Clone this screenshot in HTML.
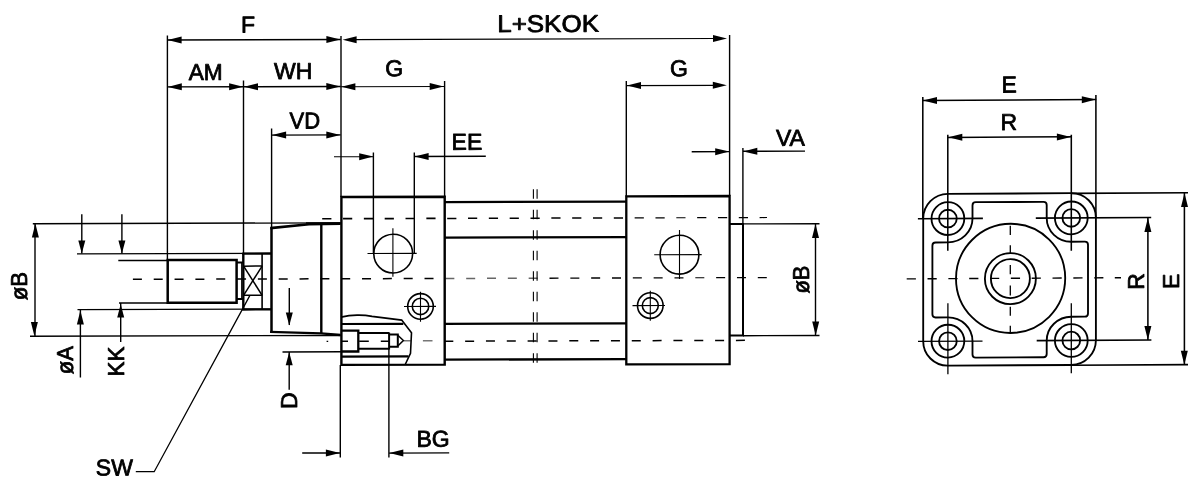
<!DOCTYPE html>
<html lang="en">
<head>
<meta charset="utf-8">
<title>Cylinder dimensions</title>
<style>
html,body{margin:0;padding:0;background:#fff;}
body{width:1200px;height:494px;overflow:hidden;}
svg{display:block;will-change:transform;}
svg line,svg polyline,svg path,svg circle,svg polygon{fill:none;stroke:#000;stroke-linecap:butt;stroke-linejoin:miter;}
svg polygon.a{fill:#000;stroke:none;}
svg text{font-family:"Liberation Sans",Arial,Helvetica,sans-serif;fill:#000;stroke:#000;stroke-width:0.8px;stroke-linejoin:round;}
</style>
</head>
<body>
<svg width="1200" height="494" viewBox="0 0 1200 494">
<rect x="0" y="0" width="1200" height="494" fill="#fff" stroke="none"/>
<g id="side-view" transform="matrix(1 -0.0028 0 1 0 1.26)">
<!-- extension lines -->
<line x1="167.4" y1="34.71" x2="167.4" y2="259.21" stroke-width="1.4"/>
<line x1="243.5" y1="79.92" x2="243.5" y2="252.92" stroke-width="1.4"/>
<line x1="271.6" y1="128" x2="271.6" y2="227.8" stroke-width="1.4"/>
<line x1="341" y1="35.69" x2="341" y2="196.69" stroke-width="1.4"/>
<line x1="340.3" y1="364.69" x2="340.3" y2="457.19" stroke-width="1.4"/>
<line x1="444.6" y1="80.98" x2="444.6" y2="196.98" stroke-width="1.4"/>
<line x1="373.4" y1="152.29" x2="373.4" y2="253.09" stroke-width="1.4"/>
<line x1="414.3" y1="152.4" x2="414.3" y2="253.2" stroke-width="1.4"/>
<line x1="626.3" y1="81.49" x2="626.3" y2="196.99" stroke-width="1.4"/>
<line x1="729.6" y1="35.78" x2="729.6" y2="196.78" stroke-width="1.4"/>
<line x1="742.9" y1="148.82" x2="742.9" y2="224.82" stroke-width="1.4"/>
<line x1="388.9" y1="348.83" x2="388.9" y2="457.33" stroke-width="1.4"/>
<!-- horizontal dimension lines -->
<line x1="167.4" y1="39.21" x2="340.7" y2="39.21" stroke-width="1.4"/>
<polygon class="a" points="167.6,39.21 181.6,35.71 181.6,42.71"/>
<polygon class="a" points="340.4,39.19 326.4,35.69 326.4,42.69"/>
<line x1="354" y1="39.29" x2="716" y2="39.29" stroke-width="1.15"/>
<polygon class="a" points="342.6,39.4 356.6,35.9 356.6,42.9"/>
<polygon class="a" points="727,39.28 713,35.78 713,42.78"/>
<line x1="167.4" y1="86.12" x2="243.5" y2="86.12" stroke-width="1.4"/>
<polygon class="a" points="167.8,86.11 181.8,82.61 181.8,89.61"/>
<polygon class="a" points="243.1,86.12 229.1,82.62 229.1,89.62"/>
<line x1="243.5" y1="86.16" x2="340.7" y2="86.16" stroke-width="1.4"/>
<polygon class="a" points="244,86.12 258,82.62 258,89.62"/>
<polygon class="a" points="340.3,86.19 326.3,82.69 326.3,89.69"/>
<line x1="340.7" y1="86.44" x2="444.6" y2="86.44" stroke-width="1.15"/>
<polygon class="a" points="341.4,86.4 355.4,82.9 355.4,89.9"/>
<polygon class="a" points="443.7,86.38 429.7,82.88 429.7,89.88"/>
<line x1="626.3" y1="86.12" x2="716" y2="86.12" stroke-width="1.25"/>
<polygon class="a" points="627,86.1 641,82.6 641,89.6"/>
<polygon class="a" points="726.8,86.08 712.8,82.58 712.8,89.58"/>
<line x1="271.6" y1="134.6" x2="340.7" y2="134.6" stroke-width="1.4"/>
<polygon class="a" points="272.1,134.6 286.1,131.1 286.1,138.1"/>
<polygon class="a" points="340.3,134.59 326.3,131.09 326.3,138.09"/>
<line x1="334" y1="156.43" x2="373.4" y2="156.43" stroke-width="1"/>
<polygon class="a" points="373.2,156.38 359.2,152.88 359.2,159.88"/>
<line x1="414.3" y1="156.4" x2="485.8" y2="156.4" stroke-width="1.4"/>
<polygon class="a" points="414.6,156.4 428.6,152.9 428.6,159.9"/>
<line x1="691.7" y1="152.43" x2="729" y2="152.43" stroke-width="1.4"/>
<polygon class="a" points="729.2,152.38 715.2,148.88 715.2,155.88"/>
<line x1="743" y1="152.11" x2="805" y2="152.11" stroke-width="1.4"/>
<polygon class="a" points="743.3,152.22 757.3,148.72 757.3,155.72"/>
<line x1="302.2" y1="452.64" x2="340" y2="452.64" stroke-width="1.4"/>
<polygon class="a" points="339.9,452.69 325.9,449.19 325.9,456.19"/>
<line x1="389" y1="452.91" x2="449.2" y2="452.91" stroke-width="1.4"/>
<polygon class="a" points="389.3,452.83 403.3,449.33 403.3,456.33"/>
<!-- vertical dimension lines, left -->
<line x1="32.8" y1="222.53" x2="340.7" y2="222.53" stroke-width="1.4"/>
<line x1="30" y1="335.12" x2="340.7" y2="335.12" stroke-width="1.4"/>
<line x1="35" y1="222.34" x2="35" y2="334.84" stroke-width="1.4"/>
<polygon class="a" points="35.4,222.44 31.9,236.44 38.9,236.44"/>
<polygon class="a" points="34.4,334.84 30.9,320.84 37.9,320.84"/>
<line x1="77" y1="252.82" x2="271.5" y2="252.82" stroke-width="1.4"/>
<line x1="77.5" y1="308.62" x2="271.5" y2="308.62" stroke-width="1.4"/>
<line x1="81.8" y1="213.17" x2="81.8" y2="252.37" stroke-width="1.4"/>
<polygon class="a" points="81.8,252.37 78.3,239.37 85.3,239.37"/>
<line x1="80.4" y1="308.57" x2="80.4" y2="376.47" stroke-width="1.4"/>
<polygon class="a" points="80.4,309.37 76.9,323.37 83.9,323.37"/>
<line x1="118.3" y1="259.64" x2="167.5" y2="259.64" stroke-width="1.4"/>
<line x1="119" y1="302.14" x2="168" y2="302.14" stroke-width="1.4"/>
<line x1="121.9" y1="213.28" x2="121.9" y2="252.48" stroke-width="1.4"/>
<polygon class="a" points="121.9,252.48 118.4,239.48 125.4,239.48"/>
<line x1="120.7" y1="302.08" x2="120.7" y2="341.08" stroke-width="1.4"/>
<polygon class="a" points="120.7,303.28 117.2,316.48 124.2,316.48"/>
<line x1="289.3" y1="287.55" x2="289.3" y2="324.55" stroke-width="1.4"/>
<polygon class="a" points="289.3,324.95 285.8,311.95 292.8,311.95"/>
<line x1="282.5" y1="351.41" x2="341" y2="351.41" stroke-width="1.5"/>
<line x1="289.2" y1="351.55" x2="289.2" y2="389.25" stroke-width="1.4"/>
<polygon class="a" points="289.2,351.75 285.7,364.75 292.7,364.75"/>
<line x1="743" y1="224.72" x2="819.5" y2="224.72" stroke-width="1.4"/>
<line x1="743" y1="336.52" x2="819.5" y2="336.52" stroke-width="1.4"/>
<line x1="815.5" y1="225.02" x2="815.5" y2="336.52" stroke-width="1.4"/>
<polygon class="a" points="815.5,225.02 812,239.02 819,239.02"/>
<polygon class="a" points="815.7,336.52 812.2,322.52 819.2,322.52"/>
<!-- centre lines -->
<line x1="322.2" y1="218.4" x2="331.4" y2="218.4" stroke-width="1.7"/>
<line x1="343.03" y1="218.4" x2="352.23" y2="218.4" stroke-width="1.7"/>
<line x1="363.86" y1="218.4" x2="373.06" y2="218.4" stroke-width="1.7"/>
<line x1="384.69" y1="218.4" x2="393.89" y2="218.4" stroke-width="1.7"/>
<line x1="405.52" y1="218.4" x2="414.72" y2="218.4" stroke-width="1.7"/>
<line x1="426.35" y1="218.4" x2="435.55" y2="218.4" stroke-width="1.7"/>
<line x1="447.18" y1="218.4" x2="456.38" y2="218.4" stroke-width="1.5"/>
<line x1="468.01" y1="218.4" x2="477.21" y2="218.4" stroke-width="1.5"/>
<line x1="488.84" y1="218.4" x2="498.04" y2="218.4" stroke-width="1.5"/>
<line x1="509.67" y1="218.4" x2="518.87" y2="218.4" stroke-width="1.5"/>
<line x1="530.5" y1="218.4" x2="539.7" y2="218.4" stroke-width="1.5"/>
<line x1="551.33" y1="218.4" x2="560.53" y2="218.4" stroke-width="1.5"/>
<line x1="572.16" y1="218.4" x2="581.36" y2="218.4" stroke-width="1.5"/>
<line x1="592.99" y1="218.4" x2="602.19" y2="218.4" stroke-width="1.5"/>
<line x1="613.82" y1="218.4" x2="623.02" y2="218.4" stroke-width="1.5"/>
<line x1="634.65" y1="218.4" x2="643.85" y2="218.4" stroke-width="1.2"/>
<line x1="655.48" y1="218.4" x2="664.68" y2="218.4" stroke-width="1.2"/>
<line x1="676.31" y1="218.4" x2="685.51" y2="218.4" stroke-width="1.2"/>
<line x1="697.14" y1="218.4" x2="706.34" y2="218.4" stroke-width="1.2"/>
<line x1="717.97" y1="218.4" x2="727.17" y2="218.4" stroke-width="1.2"/>
<line x1="738.8" y1="218.4" x2="748" y2="218.4" stroke-width="1.2"/>
<line x1="759.6" y1="218.4" x2="767" y2="218.4" stroke-width="1.2"/>
<line x1="132.9" y1="278.46" x2="141.9" y2="278.46" stroke-width="1.5"/>
<line x1="153.73" y1="278.46" x2="162.73" y2="278.46" stroke-width="1.5"/>
<line x1="174.56" y1="278.46" x2="183.56" y2="278.46" stroke-width="1.5"/>
<line x1="195.39" y1="278.46" x2="204.39" y2="278.46" stroke-width="1.5"/>
<line x1="216.22" y1="278.46" x2="225.22" y2="278.46" stroke-width="1.5"/>
<line x1="237.05" y1="278.46" x2="246.05" y2="278.46" stroke-width="1.5"/>
<line x1="257.88" y1="278.46" x2="266.88" y2="278.46" stroke-width="1.5"/>
<line x1="278.71" y1="278.46" x2="287.71" y2="278.46" stroke-width="1.5"/>
<line x1="299.54" y1="278.46" x2="308.54" y2="278.46" stroke-width="1.5"/>
<line x1="320.37" y1="278.46" x2="329.37" y2="278.46" stroke-width="1.5"/>
<line x1="341.2" y1="278.46" x2="350.2" y2="278.46" stroke-width="1.5"/>
<line x1="362.03" y1="278.46" x2="371.03" y2="278.46" stroke-width="1.5"/>
<line x1="382.86" y1="278.46" x2="391.86" y2="278.46" stroke-width="1.5"/>
<line x1="403.69" y1="278.46" x2="412.69" y2="278.46" stroke-width="1.5"/>
<line x1="424.52" y1="278.46" x2="433.52" y2="278.46" stroke-width="1.5"/>
<line x1="445.35" y1="278.46" x2="454.35" y2="278.46" stroke-width="1.5" style="stroke:#666"/>
<line x1="466.18" y1="278.46" x2="475.18" y2="278.46" stroke-width="1.5" style="stroke:#666"/>
<line x1="487.01" y1="278.46" x2="496.01" y2="278.46" stroke-width="1.5" style="stroke:#666"/>
<line x1="507.84" y1="278.46" x2="516.84" y2="278.46" stroke-width="1.5" style="stroke:#666"/>
<line x1="528.67" y1="278.46" x2="537.67" y2="278.46" stroke-width="1.5" style="stroke:#666"/>
<line x1="549.5" y1="278.46" x2="558.5" y2="278.46" stroke-width="1.4"/>
<line x1="570.33" y1="278.46" x2="579.33" y2="278.46" stroke-width="1.4"/>
<line x1="591.16" y1="278.46" x2="600.16" y2="278.46" stroke-width="1.4"/>
<line x1="611.99" y1="278.46" x2="620.99" y2="278.46" stroke-width="1.4"/>
<line x1="632.82" y1="278.46" x2="641.82" y2="278.46" stroke-width="1.2"/>
<line x1="653.65" y1="278.46" x2="662.65" y2="278.46" stroke-width="1.2"/>
<line x1="674.48" y1="278.46" x2="683.48" y2="278.46" stroke-width="1.2"/>
<line x1="695.31" y1="278.46" x2="704.31" y2="278.46" stroke-width="1.2"/>
<line x1="716.14" y1="278.46" x2="725.14" y2="278.46" stroke-width="1.2"/>
<line x1="736.97" y1="278.46" x2="745.97" y2="278.46" stroke-width="1.2"/>
<line x1="757.8" y1="278.46" x2="766.8" y2="278.46" stroke-width="1.2"/>
<line x1="326.6" y1="341.01" x2="328.2" y2="341.01" stroke-width="1.4"/>
<line x1="341.5" y1="341.01" x2="348" y2="341.01" stroke-width="1.4"/>
<line x1="359.2" y1="341.01" x2="368.8" y2="341.01" stroke-width="1.4"/>
<line x1="380.8" y1="341.01" x2="390" y2="341.01" stroke-width="1.4"/>
<line x1="403.3" y1="340.68" x2="410.8" y2="340.68" stroke-width="1.4" style="stroke:#777"/>
<line x1="422.9" y1="340.64" x2="432.5" y2="340.64" stroke-width="1.4" style="stroke:#777"/>
<line x1="444.3" y1="341.2" x2="453.3" y2="341.2" stroke-width="1.5"/>
<line x1="465.13" y1="341.2" x2="474.13" y2="341.2" stroke-width="1.5"/>
<line x1="485.96" y1="341.2" x2="494.96" y2="341.2" stroke-width="1.5"/>
<line x1="506.79" y1="341.2" x2="515.79" y2="341.2" stroke-width="1.5"/>
<line x1="527.62" y1="341.2" x2="536.62" y2="341.2" stroke-width="1.5"/>
<line x1="548.45" y1="341.2" x2="557.45" y2="341.2" stroke-width="1.5"/>
<line x1="569.28" y1="341.2" x2="578.28" y2="341.2" stroke-width="1.5"/>
<line x1="590.11" y1="341.2" x2="599.11" y2="341.2" stroke-width="1.5"/>
<line x1="610.94" y1="341.2" x2="619.94" y2="341.2" stroke-width="1.5"/>
<line x1="631.77" y1="341.2" x2="640.77" y2="341.2" stroke-width="1.5"/>
<line x1="652.6" y1="341.2" x2="661.6" y2="341.2" stroke-width="1.5"/>
<line x1="673.43" y1="341.2" x2="682.43" y2="341.2" stroke-width="1.5"/>
<line x1="694.26" y1="341.2" x2="703.26" y2="341.2" stroke-width="1.5"/>
<line x1="715.09" y1="341.2" x2="724.09" y2="341.2" stroke-width="1.5"/>
<line x1="735.92" y1="341.2" x2="744.92" y2="341.2" stroke-width="1.5"/>
<line x1="533.4" y1="189.43" x2="533.4" y2="198.93" stroke-width="1.1"/>
<line x1="533.4" y1="209.93" x2="533.4" y2="219.43" stroke-width="1.1"/>
<line x1="533.4" y1="230.43" x2="533.4" y2="239.93" stroke-width="1.1"/>
<line x1="533.4" y1="250.93" x2="533.4" y2="260.43" stroke-width="1.1"/>
<line x1="533.4" y1="271.43" x2="533.4" y2="280.93" stroke-width="1.1"/>
<line x1="533.4" y1="291.93" x2="533.4" y2="301.43" stroke-width="1.1"/>
<line x1="533.4" y1="312.43" x2="533.4" y2="321.93" stroke-width="1.1"/>
<line x1="533.4" y1="332.93" x2="533.4" y2="342.43" stroke-width="1.1"/>
<line x1="533.4" y1="353.43" x2="533.4" y2="362.93" stroke-width="1.1"/>
<line x1="537.1" y1="189.44" x2="537.1" y2="198.94" stroke-width="1.1"/>
<line x1="537.1" y1="209.94" x2="537.1" y2="219.44" stroke-width="1.1"/>
<line x1="537.1" y1="230.44" x2="537.1" y2="239.94" stroke-width="1.1"/>
<line x1="537.1" y1="250.94" x2="537.1" y2="260.44" stroke-width="1.1"/>
<line x1="537.1" y1="271.44" x2="537.1" y2="280.94" stroke-width="1.1"/>
<line x1="537.1" y1="291.94" x2="537.1" y2="301.44" stroke-width="1.1"/>
<line x1="537.1" y1="312.44" x2="537.1" y2="321.94" stroke-width="1.1"/>
<line x1="537.1" y1="332.94" x2="537.1" y2="342.44" stroke-width="1.1"/>
<line x1="537.1" y1="353.44" x2="537.1" y2="362.94" stroke-width="1.1"/>
<!-- piston rod -->
<polygon points="167.7,259.11 236.6,259.3 236.6,302.2 167.7,302.01" stroke-width="2.5"/>
<line x1="236.8" y1="262.01" x2="243.5" y2="262.01" stroke-width="2"/>
<line x1="236.8" y1="298.31" x2="243.5" y2="298.31" stroke-width="2"/>
<line x1="241.6" y1="262.02" x2="241.6" y2="298.32" stroke-width="1"/>
<line x1="243.3" y1="252.92" x2="243.3" y2="309.02" stroke-width="2.4"/>
<line x1="262.1" y1="252.97" x2="262.1" y2="309.07" stroke-width="1.6"/>
<line x1="243.6" y1="265.55" x2="262.1" y2="265.55" stroke-width="1.5"/>
<line x1="243.6" y1="294.75" x2="262.1" y2="294.75" stroke-width="1.5"/>
<line x1="243.6" y1="265.52" x2="262.1" y2="294.77" stroke-width="1.5"/>
<line x1="262.1" y1="265.57" x2="243.6" y2="294.72" stroke-width="1.5"/>
<line x1="242.2" y1="253.06" x2="271.5" y2="253.06" stroke-width="2.2"/>
<line x1="242.2" y1="308.86" x2="271.5" y2="308.86" stroke-width="2.4"/>
<line x1="271.5" y1="226.7" x2="271.5" y2="332.3" stroke-width="2.5"/>
<polyline points="270.3,227.6 309,223.91 340.7,223.49" stroke-width="2.6"/>
<line x1="306" y1="222.65" x2="340.7" y2="222.65" stroke-width="1.6"/>
<line x1="321.3" y1="223.64" x2="321.3" y2="333.24" stroke-width="2.4"/>
<polyline points="270.1,331.3 321,332.94 340.7,334.69" stroke-width="2.3"/>
<!-- front head -->
<polygon points="341.4,196.7 444.7,196.69 444.7,364.59 341.4,364.6" stroke-width="2.4"/>
<!-- rear head -->
<polygon points="626.3,196.89 729.6,196.78 729.6,364.98 626.3,364.89" stroke-width="2.3"/>
<polyline points="729.6,224.68 743,224.72 743,336.42 729.6,336.38" stroke-width="2"/>
<!-- tie rods -->
<line x1="444.6" y1="202.04" x2="626.3" y2="202.04" stroke-width="2.3"/>
<line x1="444.6" y1="237.54" x2="626.3" y2="237.54" stroke-width="2.3"/>
<line x1="444.6" y1="323.84" x2="626.3" y2="323.84" stroke-width="2.3"/>
<line x1="444.6" y1="359.64" x2="626.3" y2="359.64" stroke-width="2.3"/>
<!-- ports -->
<circle cx="393.2" cy="253.44" r="19.4" stroke-width="1.6"/>
<line x1="367.5" y1="253.24" x2="416.7" y2="253.24" stroke-width="1.1"/>
<line x1="392.9" y1="228.14" x2="392.9" y2="276.54" stroke-width="1.1"/>
<circle cx="679.5" cy="255.34" r="19.4" stroke-width="1.6"/>
<line x1="654.2" y1="255.34" x2="701.7" y2="255.34" stroke-width="1.1"/>
<line x1="679.5" y1="230.64" x2="679.5" y2="279.64" stroke-width="1.1"/>
<circle cx="420.5" cy="306.32" r="12.8" stroke-width="1.6"/>
<circle cx="420.5" cy="306.32" r="8.2" stroke-width="1.6"/>
<line x1="404" y1="306.32" x2="436" y2="306.32" stroke-width="1.1"/>
<line x1="420.5" y1="291.62" x2="420.5" y2="321.62" stroke-width="1.1"/>
<circle cx="650.3" cy="306.16" r="12.8" stroke-width="1.6"/>
<circle cx="650.3" cy="306.16" r="8" stroke-width="1.6"/>
<line x1="632.5" y1="306.16" x2="665" y2="306.16" stroke-width="1.1"/>
<line x1="650.3" y1="291.36" x2="650.3" y2="321.36" stroke-width="1.1"/>
<!-- cushion screw cut-away -->
<path d="M341 316.79 Q349 315.02 357 314.84 T372 316.18 L401.7 319.96 L411.5 332.69 L410.5 353.19 L405.2 364.37" stroke-width="1.6"/>
<line x1="341" y1="323.68" x2="403.3" y2="323.68" stroke-width="2.2"/>
<line x1="341" y1="356.29" x2="408.4" y2="356.29" stroke-width="2.2"/>
<polyline points="341,330.39 358.3,330.44 358.3,351.24 341,351.19" stroke-width="2.3"/>
<line x1="358.3" y1="332.79" x2="389.2" y2="332.79" stroke-width="2"/>
<line x1="358.3" y1="348.59" x2="389.2" y2="348.59" stroke-width="2"/>
<line x1="389.1" y1="332.33" x2="389.1" y2="349.33" stroke-width="2"/>
<polyline points="389.1,334.33 397.8,334.35 397.8,346.65 389.1,346.63" stroke-width="2"/>
<polyline points="397.8,335.05 403.4,340.37 397.8,345.85" stroke-width="1.5"/>
<!-- SW leader -->
<polyline points="135.8,470.82 154.2,470.87 249.8,295.04" stroke-width="1.3"/>
<!-- labels -->
<text x="240.9" y="31.81" font-size="23">F</text>
<text x="188.7" y="79.37" font-size="23" textLength="34" lengthAdjust="spacingAndGlyphs">AM</text>
<text x="274" y="78.51" font-size="23">WH</text>
<text x="289.6" y="128.05" font-size="23" textLength="30.6" lengthAdjust="spacingAndGlyphs">VD</text>
<text x="385.3" y="76.12" font-size="23">G</text>
<text x="497.2" y="32.23" font-size="24" textLength="101.8" lengthAdjust="spacingAndGlyphs">L+SKOK</text>
<text x="670.1" y="76.92" font-size="23">G</text>
<text x="451.6" y="149.7" font-size="23">EE</text>
<text x="775.9" y="146.71" font-size="23">VA</text>
<text x="416.4" y="446.61" font-size="23">BG</text>
<text x="95.8" y="474.61" font-size="23">SW</text>
<text x="27.5" y="299.12" font-size="23" transform="rotate(-90 27.5 299.12)" textLength="28.4" lengthAdjust="spacingAndGlyphs">øB</text>
<text x="72.6" y="373.14" font-size="23" transform="rotate(-90 72.6 373.14)" textLength="28" lengthAdjust="spacingAndGlyphs">øA</text>
<text x="124.2" y="375.49" font-size="23" transform="rotate(-90 124.2 375.49)" textLength="29.8" lengthAdjust="spacingAndGlyphs">KK</text>
<text x="296.7" y="408.67" font-size="23" transform="rotate(-90 296.7 408.67)">D</text>
<text x="808.6" y="294.6" font-size="23" transform="rotate(-90 808.6 294.6)" textLength="28" lengthAdjust="spacingAndGlyphs">øB</text>
</g>
<g id="end-view" transform="matrix(1 -0.0055 0 1 0 5.555)">
<!-- end view -->
<line x1="922.8" y1="96.52" x2="922.8" y2="217.52" stroke-width="1.55"/>
<line x1="1095.9" y1="95.47" x2="1095.9" y2="218.47" stroke-width="1.55"/>
<line x1="947.8" y1="134.36" x2="947.8" y2="250.46" stroke-width="1.55"/>
<line x1="1071.3" y1="135.04" x2="1071.3" y2="251.14" stroke-width="1.55"/>
<line x1="922.6" y1="100.02" x2="1096.2" y2="100.02" stroke-width="1.55"/>
<polygon class="a" points="923,100.12 937,96.62 937,103.62"/>
<polygon class="a" points="1095.8,100.07 1081.8,96.57 1081.8,103.57"/>
<line x1="947.8" y1="137.1" x2="1071.3" y2="137.1" stroke-width="1.55"/>
<polygon class="a" points="948.3,136.96 962.3,133.46 962.3,140.46"/>
<polygon class="a" points="1070.9,137.23 1056.9,133.73 1056.9,140.73"/>
<line x1="1071.3" y1="193.72" x2="1188" y2="193.72" stroke-width="1.55"/>
<line x1="1071.3" y1="365.61" x2="1188" y2="365.61" stroke-width="1.55"/>
<line x1="1184.4" y1="193.96" x2="1184.4" y2="365.76" stroke-width="1.55"/>
<polygon class="a" points="1184.5,194.06 1181,208.06 1188,208.06"/>
<polygon class="a" points="1184.3,365.66 1180.8,351.66 1187.8,351.66"/>
<line x1="1035.8" y1="218.25" x2="1151.2" y2="218.25" stroke-width="1.55"/>
<line x1="1036.7" y1="340.75" x2="1151.4" y2="340.75" stroke-width="1.55"/>
<line x1="1147.9" y1="218.56" x2="1147.9" y2="340.86" stroke-width="1.55"/>
<polygon class="a" points="1147.9,218.66 1144.4,232.66 1151.4,232.66"/>
<polygon class="a" points="1147.9,340.76 1144.4,326.76 1151.4,326.76"/>
<line x1="917.9" y1="218.26" x2="982.9" y2="218.26" stroke-width="1.7"/>
<line x1="918" y1="340.86" x2="982.5" y2="340.86" stroke-width="1.25"/>
<line x1="947.9" y1="302.96" x2="947.9" y2="373.86" stroke-width="1.3"/>
<line x1="1071.3" y1="303.64" x2="1071.3" y2="373.64" stroke-width="1.3"/>
<line x1="906.7" y1="278.31" x2="915.9" y2="278.31" stroke-width="1.4"/>
<line x1="927.53" y1="278.31" x2="936.73" y2="278.31" stroke-width="1.4"/>
<line x1="948.36" y1="278.31" x2="957.56" y2="278.31" stroke-width="1.4"/>
<line x1="969.19" y1="278.31" x2="978.39" y2="278.31" stroke-width="1.4"/>
<line x1="990.02" y1="278.31" x2="999.22" y2="278.31" stroke-width="1.4"/>
<line x1="1010.85" y1="278.31" x2="1020.05" y2="278.31" stroke-width="1.4"/>
<line x1="1031.68" y1="278.31" x2="1040.88" y2="278.31" stroke-width="1.4"/>
<line x1="1052.51" y1="278.31" x2="1061.71" y2="278.31" stroke-width="1.4"/>
<line x1="1073.34" y1="278.31" x2="1082.54" y2="278.31" stroke-width="1.4"/>
<line x1="1094.17" y1="278.31" x2="1103.37" y2="278.31" stroke-width="1.4"/>
<line x1="1114.8" y1="278.31" x2="1121" y2="278.31" stroke-width="1.4"/>
<line x1="1010.3" y1="225.8" x2="1010.3" y2="235" stroke-width="1.3"/>
<line x1="1010.3" y1="245.3" x2="1010.3" y2="254" stroke-width="1.3"/>
<line x1="1010.3" y1="265" x2="1010.3" y2="274.2" stroke-width="1.3"/>
<line x1="1010.3" y1="285.5" x2="1010.3" y2="295.5" stroke-width="1.3"/>
<line x1="1010.3" y1="306.7" x2="1010.3" y2="315.8" stroke-width="1.3"/>
<line x1="1010.3" y1="325.8" x2="1010.3" y2="332.5" stroke-width="1.3"/>
<path d="M947.8 193.5 L1071.3 193.5 A24.6 24.6 0 0 1 1095.9 218.1 L1095.9 340.7 A24.6 24.6 0 0 1 1071.3 365.3 L947.8 365.3 A24.6 24.6 0 0 1 923.2 340.7 L923.2 218.1 A24.6 24.6 0 0 1 947.8 193.5Z" stroke-width="1.85"/>
<path d="M972.5 205.2 Q972.5 202 975.7 202 L1043.5 202 Q1046.7 202 1046.7 205.2 L1046.7 218.25 A24.6 23.8 0 0 0 1071.3 242.05 L1084.8 242.05 Q1088 242.05 1088 245.25 L1088 313.85 Q1088 317.05 1084.8 317.05 L1071.3 317.05 A24.6 23.8 0 0 0 1046.7 340.85 L1046.7 354.2 Q1046.7 357.4 1043.5 357.4 L975.7 357.4 Q972.5 357.4 972.5 354.2 L972.5 340.85 A24.6 23.8 0 0 0 947.9 317.05 L935.6 317.05 Q932.4 317.05 932.4 313.85 L932.4 245.25 Q932.4 242.05 935.6 242.05 L947.9 242.05 A24.6 23.8 0 0 0 972.5 218.25 Z" stroke-width="1.85"/>
<circle cx="947.9" cy="218.25" r="16.4" stroke-width="1.85"/>
<circle cx="947.9" cy="218.25" r="8.85" stroke-width="1.85"/>
<circle cx="1071.3" cy="218.25" r="16.4" stroke-width="1.85"/>
<circle cx="1071.3" cy="218.25" r="8.85" stroke-width="1.85"/>
<circle cx="947.9" cy="340.85" r="16.4" stroke-width="1.85"/>
<circle cx="947.9" cy="340.85" r="8.85" stroke-width="1.85"/>
<circle cx="1071.3" cy="340.85" r="16.4" stroke-width="1.85"/>
<circle cx="1071.3" cy="340.85" r="8.85" stroke-width="1.85"/>
<circle cx="1010.6" cy="278.4" r="54.6" stroke-width="1.85"/>
<circle cx="1010.4" cy="278.6" r="25.5" stroke-width="1.85"/>
<circle cx="1010.4" cy="278.6" r="19.5" stroke-width="1.85"/>
<!-- labels -->
<text x="1001.4" y="92.45" font-size="23">E</text>
<text x="1000.4" y="129.95" font-size="23">R</text>
<text x="1144.1" y="290.54" font-size="23" transform="rotate(-90 1144.1 290.54)">R</text>
<text x="1178.6" y="289.93" font-size="23" transform="rotate(-90 1178.6 289.93)">E</text>
</g>
</svg>
</body>
</html>
